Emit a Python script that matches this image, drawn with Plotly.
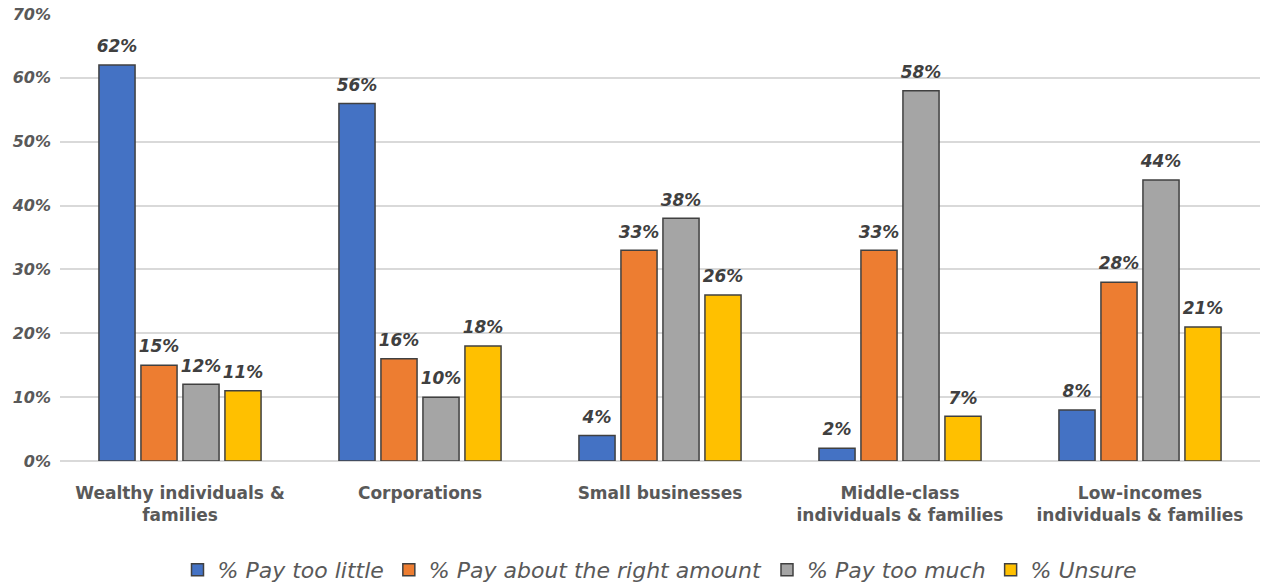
import plotly.graph_objects as go

categories = ["Wealthy individuals &<br>families", "Corporations", "Small businesses",
              "Middle-class<br>individuals & families", "Low-incomes<br>individuals & families"]
series_names = ["% Pay too little", "% Pay about the right amount", "% Pay too much", "% Unsure"]
pay_too_little = [62, 56, 4, 2, 8]
pay_right = [15, 16, 33, 33, 28]
pay_too_much = [12, 10, 38, 58, 44]
unsure = [11, 18, 26, 7, 21]
tick_vals = [0, 10, 20, 30, 40, 50, 60, 70]
tick_text = ["0%", "10%", "20%", "30%", "40%", "50%", "60%", "70%"]

colors = ["#4472C4", "#ED7D31", "#A5A5A5", "#FFC000"]
FONT = "'DejaVu Sans', sans-serif"

fig = go.Figure()
all_vals = [pay_too_little, pay_right, pay_too_much, unsure]
for i, (name, vals, col) in enumerate(zip(series_names, all_vals, colors)):
    fig.add_trace(go.Bar(
        x=categories, y=vals, name=name, offsetgroup=str(i),
        marker=dict(color=col, line=dict(color="#404040", width=1.5)),
        hoverinfo="skip",
    ))
for i, vals in enumerate(all_vals):
    fig.add_trace(go.Scatter(
        x=categories, y=vals, offsetgroup=str(i), mode="markers+text",
        marker=dict(size=12, opacity=0), showlegend=False, hoverinfo="skip",
        text=[f"<b><i>{v}%</i></b>" for v in vals], textposition="top center",
        textfont=dict(family=FONT, size=17, color="#404040"), cliponaxis=False,
    ))

fig.update_layout(
    width=1264, height=585,
    margin=dict(l=60, r=4, t=14, b=124, autoexpand=False),
    paper_bgcolor="white", plot_bgcolor="white",
    barmode="group", bargap=0.3, bargroupgap=0.14,
    scattermode="group", scattergap=0.3,
    font=dict(family=FONT, color="#595959"),
    showlegend=True,
    legend=dict(orientation="h", x=0.5, xanchor="center", y=-0.2438, yanchor="middle",
                font=dict(family=FONT, size=22, color="#595959", style="italic"),
                traceorder="normal", itemwidth=30),
    xaxis=dict(tickfont=dict(family=FONT, size=17, color="#595959", weight="bold"),
               showgrid=False, showline=False, ticks="", ticklabelstandoff=20),
    yaxis=dict(range=[0, 70], tickvals=tick_vals, ticktext=tick_text,
               tickfont=dict(family=FONT, size=16, color="#595959", weight="bold", style="italic"),
               showgrid=True, gridcolor="#D9D9D9", gridwidth=1.5,
               zeroline=True, zerolinecolor="#D9D9D9", zerolinewidth=1.5,
               ticks="", ticklabelstandoff=8),
)

fig.write_html("out.html")
